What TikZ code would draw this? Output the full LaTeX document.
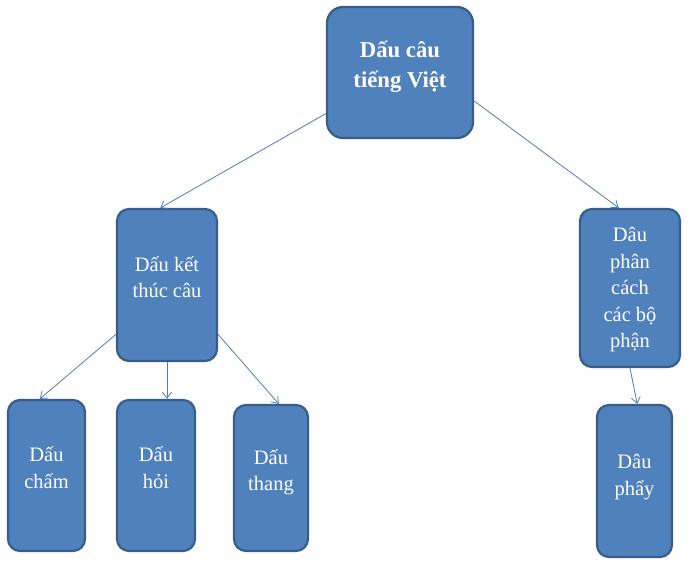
\documentclass[tikz,border=0pt]{standalone}
\usepackage{fontspec}
\setmainfont{Liberation Serif}
\usetikzlibrary{arrows.meta}
\definecolor{khoi}{HTML}{4F81BD}
\definecolor{vien}{HTML}{385D8A}
\definecolor{mui}{HTML}{4A7EBB}

\begin{document}
\begin{tikzpicture}[x=1pt, y=1pt, font=\fontsize{20.5}{26.5}\selectfont, >={Straight Barb[length=6pt,width=9pt]},
	hop/.style={draw=vien, line width=2.2pt, fill=khoi, rounded corners=12pt, text=white, align=center, inner sep=0pt, text depth=16pt},
	noi/.style={->, draw=mui, line width=0.8pt}]
			\useasboundingbox (0,0) rectangle (696,-566);
			% khoi goc
			\node[hop, minimum width=146pt, minimum height=131pt, rounded corners=16pt,
				font=\fontsize{22.7}{30}\selectfont\bfseries] (goc) at (400,-72.5) {Dấu câu\\tiếng Việt};
			% tang giua
			\node[hop, minimum width=100pt, minimum height=152pt] (ketthuc) at (167,-285) {Dấu kết\\thúc câu};
			\node[hop, minimum width=100pt, minimum height=158pt, text depth=1pt] (phancach) at (630,-288) {Dâu\\phân\\cách\\các bộ\\phận};
			% tang duoi
			\node[hop, minimum width=77pt, minimum height=151pt] (cham) at (46.5,-475.5) {Dấu\\chấm};
			\node[hop, minimum width=78pt, minimum height=151pt] (hoi) at (156,-475.5) {Dấu\\hỏi};
			\node[hop, minimum width=74pt, minimum height=146pt] (thang) at (271,-478) {Dấu\\thang};
			\node[hop, minimum width=75pt, minimum height=152pt, text depth=12pt] (phay) at (634.5,-481) {Dâu\\phẩy};
			% mui ten
			\draw[noi] (goc.209) -- (ketthuc.95);
			\draw[noi] (goc.339) -- (phancach.98);
			\draw[noi] (ketthuc.224) -- (cham.95);
			\draw[noi] (ketthuc.south) -- (ketthuc.south |- hoi.north);
			\draw[noi] (ketthuc.316) -- (thang.84);
			\draw[noi] (phancach.south) -- (phay.88);
		\end{tikzpicture}
\end{document}
